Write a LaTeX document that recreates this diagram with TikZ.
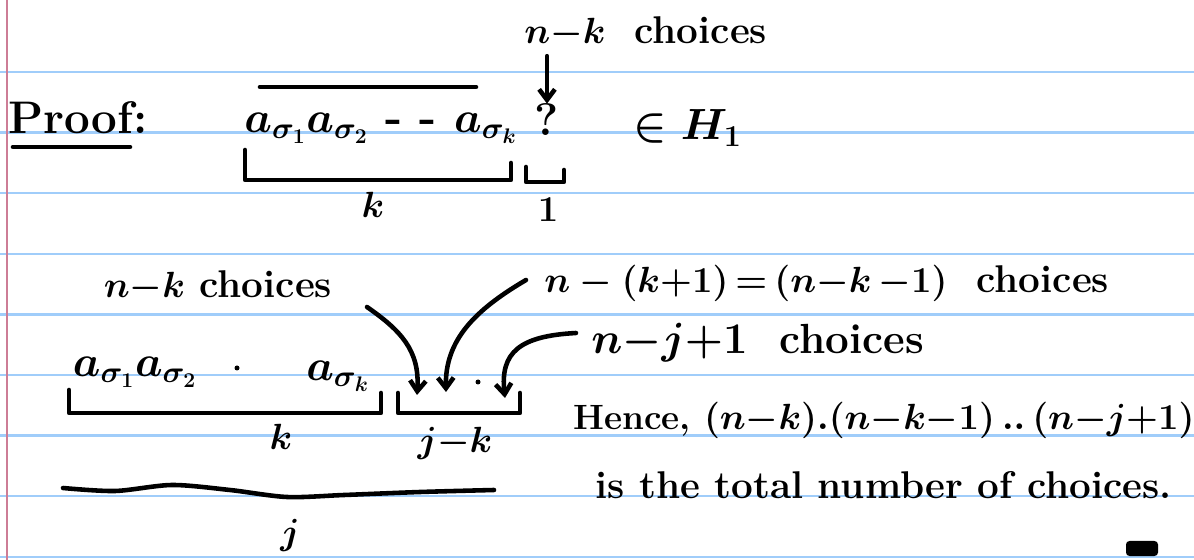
\documentclass[tikz,border=0pt]{standalone}
\usetikzlibrary{arrows.meta}
\definecolor{ruleblue}{RGB}{160,205,250}
\definecolor{margred}{RGB}{205,125,150}
\tikzset{
  ink/.style = {line width = 2.6pt, line cap = round, line join = round},
  rule/.style = {line width = 1.4pt, draw = ruleblue},
  hand/.style = {inner sep = 0pt, font = \fontsize{22}{26}\selectfont\bfseries\boldmath},
  big/.style = {hand, font = \fontsize{26}{30}\selectfont\bfseries\boldmath},
  arr/.style = {ink, -{Straight Barb[length = 6pt, width = 9pt]}}
}
\begin{document}
\begin{tikzpicture}[x = .02cm, y = -.02cm]
  \useasboundingbox (0,0) rectangle (1194,560);
  \fill[white] (0,0) rectangle (1194,560);
  \foreach \i in {0, ..., 8}
    \draw[rule] (0, {72 + 60.6*\i}) -- (1194, {72 + 60.6*\i});
  \draw[line width = 1.4pt, margred] (7,0) -- (7,560);

  \node[big, anchor = west] (proof) at (8,118) {Proof:};
  \draw[ink] (13,147) -- (130,147);
  \node[big] (atop) at (381,128)
    {$a_{\sigma_1}a_{\sigma_2}\ \mbox{-}\ \mbox{-}\ a_{\sigma_k}$};
  \draw[ink] (260,87) -- (476,87);
  \draw[ink] (245,150) -- (245,180) -- (511,180) -- (511,163);
  \node[hand] (ktop) at (373,205) {$k$};
  \node[big] (qm) at (547,120) {?};
  \node[hand, anchor = west] (nktop) at (524,33) {$n{-}k$\ \ choices};
  \draw[arr] (qm |- nktop.south) ++(0,7) -- (qm.north);
  \node[big, anchor = west] (inH) at (633,128) {$\in H_1$};
  \draw[ink] (526,167) -- (526,182) -- (564,182) -- (564,170);
  \node[hand] (onetop) at (548,210) {$1$};

  \node[hand] (nkbot) at (218,287) {$n{-}k$ choices};
  \node[hand, anchor = west] (nkk) at (544,283)
    {$n-(k{+}1)\,{=}\,(n{-}k\,{-}1)$\ \ choices};
  \node[hand, anchor = west, font = \fontsize{24}{28}\selectfont\bfseries\boldmath] (njc)
    at (591,343) {$n{-}j{+}1$\ \ choices};
  \node[big] (abot) at (135,372) {$a_{\sigma_1}a_{\sigma_2}$};
  \fill (237,368) circle (2.5);
  \node[big] (abotk) at (338,376) {$a_{\sigma_k}$};
  \coordinate (a1) at (367,307);
  \coordinate (a2) at (526,280);
  \coordinate (a3) at (576,333);
  \coordinate (s1) at (417,395);
  \coordinate (s2) at (446,392);
  \coordinate (s4) at (505,398);
  \fill (478,382) circle (2.5);
  \draw[arr] (a1) .. controls (400,330) and (420,350) .. (s1);
  \draw[arr] (a2) .. controls (475,310) and (445,340) .. (s2);
  \draw[arr] (a3) .. controls (520,336) and (500,352) .. (s4);
  \draw[ink] (69,390) -- (69,413) -- (381,413) -- (381,393);
  \draw[ink] (398,393) -- (398,413) -- (520,413) -- (520,393);
  \node[hand] (kbot) at (281,437) {$k$};
  \node[hand] (jk) at (455,443) {$j{-}k$};
  \draw[ink] plot[smooth] coordinates
    {(63,488) (115,491) (172,485) (230,490) (287,497) (344,495) (420,492) (494,490)};
  \node[hand] (jbot) at (290,535) {$j$};

  \node[hand, anchor = west, font = \fontsize{20}{24}\selectfont\bfseries\boldmath] (hence)
    at (573,420) {Hence, $(n{-}k).(n{-}k{-}1)\,..\,(n{-}j{+}1)$};
  \node[hand, anchor = west] (total) at (595,485) {is the total number of choices.};
  \fill[rounded corners = 2pt] (1126,541) rectangle (1158,556);
\end{tikzpicture}
\end{document}
